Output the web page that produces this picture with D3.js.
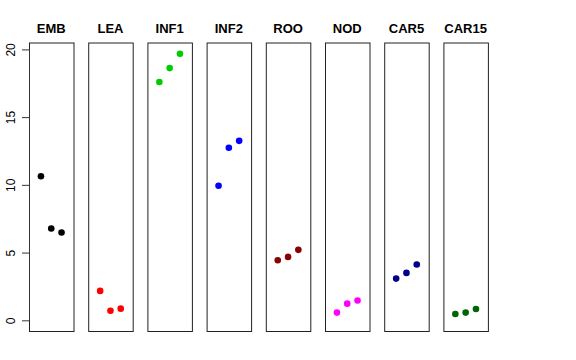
<!DOCTYPE html>
<html>
<head>
<meta charset="utf-8">
<script src="https://cdn.jsdelivr.net/npm/d3@7"></script>
<style>
  body { margin: 0; background: #fff; }
  text { font-family: "Liberation Sans", Arial, sans-serif; }
</style>
</head>
<body>
<div id="chart"></div>
<script>
// data
var groups = ["EMB", "LEA", "INF1", "INF2", "ROO", "NOD", "CAR5", "CAR15"];
var colors = ["#000000", "#ff0000", "#00cd00", "#0000ff", "#8b0000", "#ff00ff", "#00008b", "#006400"];
var values = [
  [10.64, 6.78, 6.48],
  [2.17, 0.71, 0.86],
  [17.59, 18.62, 19.68],
  [9.93, 12.74, 13.25],
  [4.43, 4.68, 5.20],
  [0.57, 1.23, 1.46],
  [3.08, 3.50, 4.12],
  [0.47, 0.57, 0.84]
];
var yTicks = [0, 5, 10, 15, 20];

var width = 576, height = 360;
// note: "top" is taken by window.top, so use other names
var plotLeft = 29, plotTop = 42.5, plotBottom = 331, panelW = 44.5, step = 59.2;

var svg = d3.select("#chart").append("svg")
  .attr("width", width)
  .attr("height", height);

// y range 0..max with 4% padding, like R does
var ymax = 19.72;
var pad = ymax * 0.04;
var y = d3.scaleLinear()
  .domain([-pad, ymax + pad])
  .range([plotBottom, plotTop]);

// x: points at 1,2,3 on 0..4, padded 4%
var x = d3.scaleLinear()
  .domain([-0.16, 4.16])
  .range([0, panelW]);

groups.forEach(function(name, i) {
  var g = svg.append("g")
    .attr("transform", "translate(" + (plotLeft + i * step) + ",0)");

  g.append("rect")
    .attr("x", 0.5)
    .attr("y", plotTop + 0.5)
    .attr("width", panelW)
    .attr("height", plotBottom - plotTop)
    .attr("fill", "none")
    .attr("stroke", "#222")
    .attr("stroke-width", 1);

  g.append("text")
    .attr("x", panelW / 2)
    .attr("y", 33)
    .attr("text-anchor", "middle")
    .style("font-size", "13px")
    .style("font-weight", "bold")
    .text(name);

  g.selectAll("circle")
    .data(values[i])
    .enter()
    .append("circle")
    .attr("cx", function(d, j) { return x(j + 1); })
    .attr("cy", function(d) { return y(d); })
    .attr("r", 3.3)
    .attr("fill", colors[i]);

  if (i === 0) {
    var axis = d3.axisLeft(y)
      .tickValues(yTicks)
      .tickSize(7.5)
      .tickPadding(4)
      .tickFormat(d3.format("d"));
    var ax = g.append("g")
      .attr("transform", "translate(0.5,0)")
      .call(axis);
    ax.select(".domain").remove();
    ax.selectAll(".tick line").attr("stroke", "#333");
    ax.selectAll(".tick text")
      .style("font-size", "12px")
      .style("font-family", "Liberation Sans, Arial, sans-serif")
      .attr("fill", "#000")
      .attr("transform", "rotate(-90)")
      .attr("x", 0)
      .attr("y", -15)
      .attr("dy", "0")
      .attr("text-anchor", "middle");
    // axis line between first and last tick
    g.append("line")
      .attr("x1", 0.5).attr("x2", 0.5)
      .attr("y1", y(0)).attr("y2", y(20))
      .attr("stroke", "#333");
  }
});
</script>
</body>
</html>
